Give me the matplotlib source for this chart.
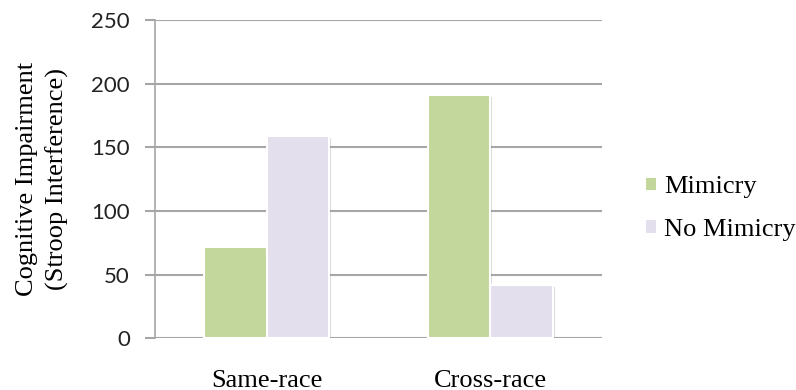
import numpy as np
import matplotlib.pyplot as plt
import matplotlib.patheffects as pe

groups = ["Same-race", "Cross-race"]
mimicry = [72, 191]
no_mimicry = [159, 42]
series_names = ["Mimicry", "No Mimicry"]
yticks = [0, 50, 100, 150, 200, 250]

green = "#C3D69B"
lilac = "#E4DFEC"
grid_grey = "#A6A6A6"

fig = plt.figure(figsize=(7.96, 3.9), dpi=100)
ax = fig.add_axes([0.1947, 0.1326, 0.5616, 0.8161])

x = np.arange(len(groups))
w = 0.28
shadow = [pe.SimplePatchShadow(offset=(1.5, -1.5), shadow_rgbFace="#888888", alpha=0.3), pe.Normal()]
b1 = ax.bar(x - w / 2, mimicry, w, color=green, edgecolor="white", linewidth=1.5, zorder=3)
b2 = ax.bar(x + w / 2, no_mimicry, w, color=lilac, edgecolor="white", linewidth=1.5, zorder=3)
for bar in list(b1) + list(b2):
    bar.set_path_effects(shadow)

ax.set_xlim(-0.5, 1.5)
ax.set_ylim(0, 250)
ax.set_yticks(yticks)
ax.yaxis.grid(True, color=grid_grey, linewidth=1.5)
ax.set_axisbelow(True)
for s in ["top", "right", "bottom"]:
    ax.spines[s].set_visible(False)
ax.spines["left"].set_color(grid_grey)
ax.spines["left"].set_linewidth(1.2)
ax.tick_params(axis="y", length=7, width=1.5, color=grid_grey, pad=11,
               labelsize=16, labelcolor="#222222")
for t in ax.get_yticklabels():
    t.set_family("Lato")

ax.set_xticks(x)
ax.set_xticklabels(groups, family="Liberation Serif", fontsize=19)
ax.tick_params(axis="x", length=0, pad=23)

ax.set_ylabel("Cognitive Impairment\n(Stroop Interference)", family="Liberation Serif",
              fontsize=19, linespacing=1.45, labelpad=16)

# plain square swatches for the legend
handles = [plt.Rectangle((0, 0), 1, 1, facecolor=c, edgecolor="none") for c in (green, lilac)]
ax.legend(handles, series_names, loc="center left", bbox_to_anchor=(1.046, 0.407),
          frameon=False, prop={"family": "Liberation Serif", "size": 19},
          handlelength=0.38, handleheight=0.38, handletextpad=0.3, labelspacing=0.78)

fig.savefig("out.png", dpi=100)
